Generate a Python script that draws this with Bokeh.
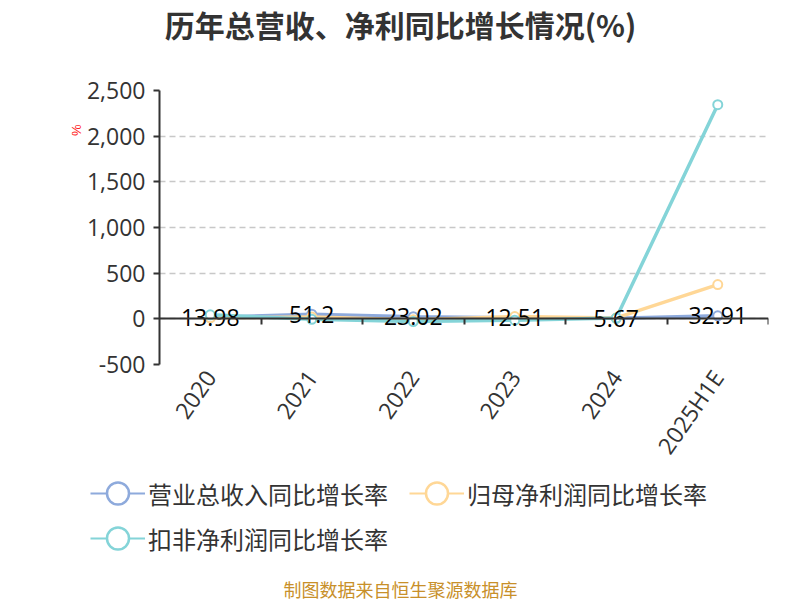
from bokeh.plotting import figure
from bokeh.layouts import column
from bokeh.models import (Range1d, FixedTicker, LinearAxis, NumeralTickFormatter,
                          Legend, LegendItem, Title, Label, ColumnDataSource)
from bokeh.core.properties import value
from bokeh.embed import file_html
from bokeh.resources import INLINE

categories = ["2020", "2021", "2022", "2023", "2024", "2025H1E"]
revenue_growth = [13.98, 51.2, 23.02, 12.51, 5.67, 32.91]
net_profit_growth = [12.0, 20.0, -10.0, 25.0, 10.0, 375.0]
deducted_profit_growth = [44.0, -5.0, -30.0, -15.0, 8.0, 2345.0]
y_ticks = [-500, 0, 500, 1000, 1500, 2000, 2500]

series_names = ["营业总收入同比增长率", "归母净利润同比增长率", "扣非净利润同比增长率"]
colors = ["#8eaadc", "#ffd796", "#84d4d8"]
title_text = "历年总营收、净利同比增长情况(%)"
source_text = "制图数据来自恒生聚源数据库"

CJK = "Noto Sans CJK SC"
NUM = "Open Sans"

xs = [i + 0.5 for i in range(len(categories))]
series_values = [revenue_growth, net_profit_growth, deducted_profit_growth]


def blank(fig):
    fig.outline_line_color = None
    fig.background_fill_color = "white"
    fig.border_fill_color = "white"
    fig.xgrid.visible = False
    fig.ygrid.visible = False


# ---- title strip ----
p0 = figure(width=800, height=60, output_backend="svg", toolbar_location=None,
            x_axis_location=None, y_axis_location=None, min_border=0,
            x_range=Range1d(0, 1), y_range=Range1d(0, 1))
blank(p0)
p0.add_layout(Label(x=400, y=37, x_units="screen", y_units="screen", text=title_text,
                    text_font=CJK, text_font_size="30px", text_font_style="bold",
                    text_color="#333333", text_align="center", text_baseline="middle"))

# ---- main chart ----
p = figure(width=800, height=416, output_backend="svg", toolbar_location=None,
           x_range=Range1d(0, len(categories)), y_range=Range1d(y_ticks[0], y_ticks[-1]),
           min_border_left=159, min_border_right=32, min_border_top=30, min_border_bottom=112)
p.outline_line_color = None
p.background_fill_color = "white"
p.border_fill_color = "white"

xa = p.xaxis[0]
xa.ticker = FixedTicker(ticks=xs, minor_ticks=[])
xa.major_label_overrides = {x: c for x, c in zip(xs, categories)}
xa.axis_line_color = None
xa.major_tick_line_color = None
xa.minor_tick_line_color = None
xa.major_tick_out = 0
xa.major_tick_in = 0
xa.major_label_orientation = 0.96
xa.major_label_text_font = NUM
xa.major_label_text_font_size = "23px"
xa.major_label_text_color = "#333333"
xa.major_label_standoff = 8

bounds = list(range(1, len(categories) + 1))
za = LinearAxis(fixed_location=0, ticker=FixedTicker(ticks=bounds, minor_ticks=[]))
za.major_label_overrides = {b: "" for b in bounds}
za.axis_line_color = "#333333"
za.axis_line_width = 2
za.major_tick_line_color = "#333333"
za.major_tick_line_width = 2
za.major_tick_in = 0
za.major_tick_out = 6
za.major_label_text_font_size = "1px"
za.major_label_standoff = 0
p.add_layout(za, "below")

ya = p.yaxis[0]
ya.ticker = FixedTicker(ticks=y_ticks, minor_ticks=[])
ya.formatter = NumeralTickFormatter(format="0,0")
ya.axis_line_color = "#333333"
ya.axis_line_width = 2
ya.major_tick_line_color = "#333333"
ya.major_tick_line_width = 2
ya.major_tick_in = 0
ya.major_tick_out = 6
ya.minor_tick_line_color = None
ya.major_label_text_font = NUM
ya.major_label_text_font_size = "23px"
ya.major_label_text_color = "#333333"
ya.major_label_standoff = 8

p.xgrid.grid_line_color = None
p.ygrid.ticker = FixedTicker(ticks=y_ticks)
p.ygrid.grid_line_color = "#c8c8c8"
p.ygrid.grid_line_dash = "6 4"
p.ygrid.grid_line_width = 1.5

for vals, col in zip(series_values, colors):
    src = ColumnDataSource(dict(x=xs, y=vals))
    p.line("x", "y", source=src, line_color=col, line_width=3.5)
    p.scatter("x", "y", source=src, marker="circle", size=9, fill_color="white",
              line_color=col, line_width=2)

lab_src = ColumnDataSource(dict(x=xs, y=revenue_growth, t=[f"{v:g}" for v in revenue_growth]))
p.text("x", "y", text="t", source=lab_src, text_align="center", text_baseline="middle",
       text_font_size="23px", text_color="#000000", text_font=value(NUM))

p.add_layout(Title(text="%", align="right", text_color="#ff2020", text_font_size="13px",
                   text_font_style="normal", standoff=0, offset=34), "left")

# ---- legend + source strip (its ranges keep the series themselves out of view) ----
p2 = figure(width=800, height=124, output_backend="svg", toolbar_location=None,
            x_axis_location=None, y_axis_location=None, min_border=0,
            x_range=Range1d(-2, -1), y_range=Range1d(0, 1))
blank(p2)

items = []
for name, vals, col in zip(series_names, series_values, colors):
    src = ColumnDataSource(dict(x=xs, y=vals))
    lg_line = p2.line("x", "y", source=src, line_color=col, line_width=2)
    lg_pt = p2.scatter("x", "y", source=src, marker="circle", size=24, fill_color="white",
                       line_color=col, line_width=2.5)
    items.append(LegendItem(label=name, renderers=[lg_line, lg_pt]))

leg_kw = dict(orientation="horizontal", label_text_font=CJK, label_text_font_size="24px",
              label_text_color="#333333", glyph_width=55, glyph_height=60, label_height=24,
              label_standoff=3, spacing=21, padding=0, margin=0,
              border_line_color=None, background_fill_alpha=0)
p2.add_layout(Legend(items=items[:2], location=(90, 77), **leg_kw), "center")
p2.add_layout(Legend(items=items[2:], location=(90, 32), **leg_kw), "center")
p2.add_layout(Label(x=400, y=12, x_units="screen", y_units="screen", text=source_text,
                    text_font=CJK, text_font_size="18px", text_color="#c8902a",
                    text_align="center", text_baseline="middle"))

layout = column(p0, column(p), p2, spacing=0)
open("out.html", "w").write(file_html(layout, INLINE))
